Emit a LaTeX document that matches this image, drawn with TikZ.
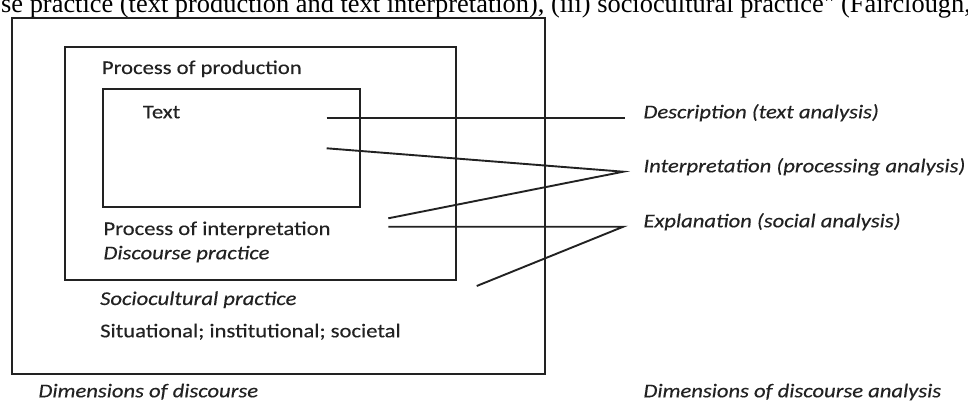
\documentclass[tikz,border=0pt]{standalone}
\usepackage{fontspec}
\setmainfont{Carlito}[FakeStretch=1.16, FakeBold=0.35]
\newfontfamily\timesfont{Liberation Serif}
\definecolor{ink}{HTML}{222222}
\tikzset{
  boxline/.style={draw=ink, line width=2.3pt},
  connline/.style={draw=ink, line width=1.9pt},
  lbl/.style={anchor=base west, inner sep=0pt, text=ink, font=\fontsize{19.5}{23}\selectfont},
  ilbl/.style={lbl, font=\fontsize{19.5}{23}\selectfont\itshape},
}
\begin{document}
\begin{tikzpicture}[x=1pt,y=-1pt]
\useasboundingbox (0,0) rectangle (968,401);
\begin{scope}
\clip (0,0) rectangle (968,401);
\node[anchor=base west, inner sep=0pt, font=\timesfont\fontsize{26.4}{29}\selectfont] (cut) at (1,12.7)
  {se practice (text production and text interpretation), (iii) sociocultural practice" (Fairclough,};
\end{scope}
% boxes
\draw[boxline] (11.7,18.3) rectangle (545,374);
\draw[boxline] (65,46.7) rectangle (455.7,280);
\draw[boxline] (102.7,89.3) rectangle (360,207.3);
% texts inside
\node[lbl] (prod) at (101.7,74) {Process of production};
\node[lbl] (text) at (142.7,118.3) {Text};
\node[lbl] (interp) at (103.3,235) {Process of interpretation};
\node[ilbl] (dp) at (103.3,259.3) {Discourse practice};
\node[ilbl] (sp) at (100,305) {Sociocultural practice};
\node[lbl] (sit) at (100,337.3) {Situational; institutional; societal};
\node[ilbl] (dod) at (38.3,397.3) {Dimensions of discourse};
% right labels
\node[ilbl] (desc) at (643.3,118.3) {Description (text analysis)};
\node[ilbl] (intp) at (643.3,172.3) {Interpretation (processing analysis)};
\node[ilbl] (expl) at (643.3,227.3) {Explanation (social analysis)};
\node[ilbl] (doda) at (643.3,397.3) {Dimensions of discourse analysis};
% connector points
\coordinate (a1) at (326.7,118.3);
\coordinate (a2) at (625,118.3);
\coordinate (b1) at (326.7,148.3);
\coordinate (b2) at (623.3,171.7);
\coordinate (b3) at (388.3,218.3);
\coordinate (c1) at (388.3,226.7);
\coordinate (c2) at (623.3,226.7);
\coordinate (c3) at (476.7,286);
\draw[connline] (a1) -- (a2);
\draw[connline, line join=miter] (b1) -- (b2) -- (b3);
\draw[connline, line join=miter] (c1) -- (c2) -- (c3);
\end{tikzpicture}
\end{document}
